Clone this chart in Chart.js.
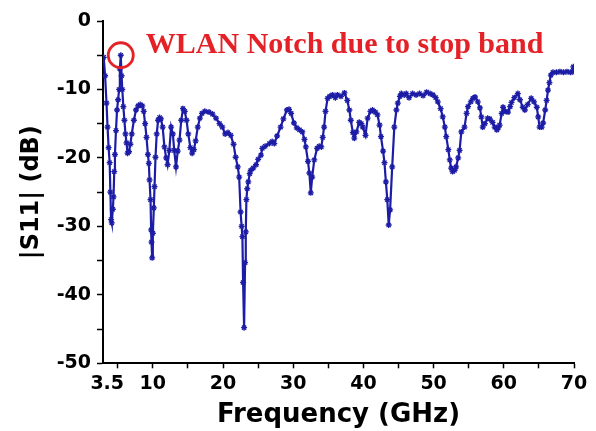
<!DOCTYPE html>
<html>
<head>
<meta charset="utf-8">
<script src="https://cdn.jsdelivr.net/npm/chart.js@4/dist/chart.umd.min.js"></script>
<style>
  html, body { margin: 0; padding: 0; background: #ffffff; }
  #wrap { width: 596px; height: 431px; }
</style>
</head>
<body>
<div id="wrap"><canvas id="c" width="596" height="431"></canvas></div>
<script>
// ---- data ----
const freqGHz = [
  3.0, 3.2, 3.4, 3.55, 3.7, 3.85, 3.95, 4.05, 4.15, 4.3, 4.4, 4.5, 4.6, 4.75, 4.9, 5.05, 5.2, 5.3, 5.43,
  5.55, 5.65, 5.8, 5.95, 6.1, 6.25, 6.4, 6.6, 6.8, 7.0, 7.3, 7.6, 7.9, 8.2, 8.5, 8.7, 8.9, 9.1, 9.3,
  9.43, 9.53, 9.67, 9.76, 9.81, 9.9, 10.0, 10.14, 10.24, 10.38, 10.55, 10.75, 10.95, 11.15, 11.4,
  11.65, 11.9, 12.1, 12.35, 12.6, 12.85, 13.05, 13.3, 13.55, 13.8, 14.05, 14.3, 14.55, 14.8, 15.05,
  15.35, 15.6, 15.85, 16.1, 16.4, 16.7, 17.0, 17.4, 18.0, 18.5, 19.0, 19.5, 19.9, 20.3, 20.7, 21.1,
  21.5, 21.8, 22.1, 22.3, 22.5, 22.65, 22.76, 22.86, 23.0, 23.14, 23.24, 23.33, 23.45, 23.6, 23.8,
  23.96, 24.3, 24.7, 25.0, 25.4, 25.6, 26.0, 26.6, 27.0, 27.3, 27.7, 28.2, 28.6, 29.1, 29.4, 29.7,
  30.1, 30.5, 30.9, 31.3, 31.6, 31.8, 32.1, 32.3, 32.5, 32.7, 33.0, 33.4, 33.7, 34.0, 34.2, 34.4,
  34.6, 34.9, 35.2, 35.6, 36.0, 36.3, 36.8, 37.3, 37.7, 38.0, 38.2, 38.5, 38.7, 39.0, 39.4, 39.7,
  39.9, 40.3, 40.6, 41.0, 41.3, 41.7, 42.0, 42.3, 42.5, 42.8, 43.0, 43.2, 43.4, 43.6, 43.8, 44.1,
  44.4, 44.7, 44.9, 45.2, 45.4, 45.8, 46.1, 46.5, 47.0, 47.5, 48.0, 48.5, 49.0, 49.5, 49.9, 50.3,
  50.6, 51.0, 51.3, 51.6, 51.8, 52.1, 52.3, 52.5, 52.7, 53.0, 53.2, 53.5, 53.7, 53.95, 54.4, 54.7,
  54.9, 55.3, 55.6, 55.9, 56.3, 56.6, 56.8, 57.0, 57.3, 57.7, 58.0, 58.4, 58.7, 59.0, 59.2, 59.4,
  59.7, 59.9, 60.2, 60.6, 60.9, 61.1, 61.5, 62.0, 62.3, 62.7, 63.0, 63.4, 63.9, 64.3, 64.7, 64.9,
  65.1, 65.4, 65.6, 65.9, 66.1, 66.3, 66.5, 66.7, 67.0, 67.5, 68.0, 68.5, 69.0, 69.5, 69.85, 69.9
];
const s11dB = [
  -5.3, -8, -12, -15.5, -18.5, -20.7, -25, -29, -29.5, -27.5, -25.7, -22, -19.5, -16, -13, -11.5, -10, -7, -5,
  -8, -10, -12.5, -14.5, -16.5, -17.8, -19.3, -19.1, -18, -16.5, -14.5, -13, -12.4, -12.2, -12.4, -13.2, -15, -17, -19.5,
  -20.8, -23.2, -26.1, -30.5, -32.3, -34.6, -31, -27.3, -24.2, -19.9, -16.5, -14.5, -14.1, -14.3, -15.5,
  -18.4, -20, -21, -18.9, -15.5, -16.5, -18.9, -21.3, -19, -17.4, -14.5, -12.8, -13.2, -14.5, -16.5,
  -18.5, -19.3, -18.8, -17.5, -15.5, -14.2, -13.5, -13.2, -13.3, -13.6, -14.2, -15, -15.5, -16.5, -16.3, -16.7,
  -18, -19.9, -21.3, -22.8, -27.9, -30, -31.5, -38.2, -44.8, -35.3, -30.8, -26.1, -24.5, -23.5, -22.3,
  -21.8, -21.5, -21, -20.2, -19.6, -18.6, -18.3, -17.9, -17.6, -17.9, -16.8, -15.5, -14.3, -13, -12.9, -13.5,
  -14.9, -15.6, -15.9, -16.2, -17.3, -18.4, -20.5, -22.2, -25.1, -22.8, -20.3, -18.6, -18.3, -18.4, -17, -15.5,
  -13.2, -11.3, -11, -10.8, -11.2, -10.8, -11, -10.5, -11.6, -13, -14.5, -16.3, -17.1, -16.2, -14.8, -15,
  -15.5, -16.7, -14.2, -13.2, -13, -13.3, -13.7, -15.2, -16.9, -19, -20.7, -23.5, -26.1, -29.8, -27.6, -21.3,
  -15.5, -13, -12, -11, -10.6, -10.8, -10.6, -11.2, -10.6, -10.8, -10.6, -10.9, -10.4, -10.6, -10.8, -11.2,
  -11.8, -12.8, -14, -15.5, -16.9, -18.8, -20.3, -21.5, -22, -21.8, -21.3, -20, -18.9, -16.2, -15.5, -13.5,
  -12.5, -11.8, -11.3, -11.1, -11.8, -12.7, -14, -15.5, -15, -14.2, -14.3, -14.8, -15.5, -15.9, -15.6, -15.2,
  -13.5, -12.6, -13.2, -13.3, -12.5, -11.9, -11.2, -10.6, -11.5, -12.6, -13, -12.2, -11.3, -11.8, -12.6, -14,
  -15.5, -15.5, -14.9, -13, -11.6, -10.1, -9, -7.9, -7.5, -7.5, -7.4, -7.5, -7.4, -7.5, -7.4, -6.7
];

const xTickValues = [3.5, 5, 10, 15, 20, 25, 30, 35, 40, 45, 50, 55, 60, 65, 70];
const xTickLabels = ['3.5', '', '10', '', '20', '', '30', '', '40', '', '50', '', '60', '', '70'];
const yTickValues = [0, -5, -10, -15, -20, -25, -30, -35, -40, -45, -50];
const yTickLabels = ['0', '', '-10', '', '-20', '', '-30', '', '-40', '', '-50'];

const notchFreq = 5.43;     // marked WLAN notch point
const notchValue = -5;
const noteText = 'WLAN Notch due to stop band';
const noteAnchorFreq = 9.0;
const noteAnchorValue = -4.7;

// ---- chart ----
const points = freqGHz.map((f, i) => ({ x: f, y: s11dB[i] }));
const BLUE = '#1c1ca6';
const RED = '#e42127';

const notePlugin = {
  id: 'notePlugin',
  afterDatasetsDraw(chart) {
    const { ctx, scales } = chart;
    const x = scales.x, y = scales.y;
    ctx.save();
    ctx.strokeStyle = RED;
    ctx.lineWidth = 2.8;
    ctx.beginPath();
    ctx.arc(x.getPixelForValue(notchFreq), y.getPixelForValue(notchValue), 12.5, 0, Math.PI * 2);
    ctx.stroke();
    ctx.fillStyle = RED;
    ctx.font = 'bold 30px "Liberation Serif", serif';
    ctx.textBaseline = 'alphabetic';
    ctx.textAlign = 'left';
    ctx.fillText(noteText, x.getPixelForValue(noteAnchorFreq), y.getPixelForValue(noteAnchorValue));
    ctx.restore();
  }
};

new Chart(document.getElementById('c'), {
  type: 'line',
  data: {
    datasets: [{
      data: points,
      borderColor: BLUE,
      backgroundColor: BLUE,
      borderWidth: 2.2,
      pointStyle: 'star',
      pointRadius: 3,
      pointBorderWidth: 1.3,
      pointBorderColor: BLUE,
      pointBackgroundColor: BLUE,
      tension: 0
    }]
  },
  options: {
    responsive: false,
    animation: false,
    events: [],
    layout: { padding: { left: 10, right: 22, top: 21, bottom: 0 } },
    plugins: { legend: { display: false }, tooltip: { enabled: false } },
    scales: {
      x: {
        type: 'linear',
        min: 2.9,
        max: 70,
        afterBuildTicks(scale) { scale.ticks = xTickValues.map(v => ({ value: v })); },
        afterFit(scale) { scale.height = 431 - 363.3; },
        border: { display: true, color: '#000', width: 2 },
        grid: {
          drawOnChartArea: false,
          drawTicks: true,
          tickLength: 5,
          tickWidth: 1.5,
          tickColor: ctx => (ctx.tick && ctx.tick.value === 3.5) ? 'rgba(0,0,0,0)' : '#000'
        },
        ticks: {
          autoSkip: false,
          maxRotation: 0,
          padding: 4,
          color: '#000',
          font: { family: '"DejaVu Sans", sans-serif', weight: 'bold', size: 19 },
          callback: (v) => { const i = xTickValues.indexOf(v); return i >= 0 ? xTickLabels[i] : ''; }
        },
        title: {
          display: true,
          text: 'Frequency (GHz)',
          color: '#000',
          font: { family: '"DejaVu Sans", sans-serif', weight: 'bold', size: 26 },
          padding: { top: 0, bottom: 0 }
        }
      },
      y: {
        type: 'linear',
        min: -50,
        max: 0,
        afterBuildTicks(scale) { scale.ticks = yTickValues.map(v => ({ value: v })); },
        afterFit(scale) { scale.width = 103 - 10; },
        border: { display: true, color: '#000', width: 2 },
        grid: { drawOnChartArea: false, drawTicks: true, tickLength: 6, tickWidth: 1.5, tickColor: '#000' },
        ticks: {
          autoSkip: false,
          padding: 6,
          color: '#000',
          font: { family: '"DejaVu Sans", sans-serif', weight: 'bold', size: 19 },
          callback: (v) => { const i = yTickValues.indexOf(v); return i >= 0 ? yTickLabels[i] : ''; }
        },
        title: {
          display: true,
          text: '|S11| (dB)',
          color: '#000',
          font: { family: '"DejaVu Sans", sans-serif', weight: 'bold', size: 24 },
          padding: { top: 7, bottom: 0 }
        }
      }
    }
  },
  plugins: [notePlugin]
});
</script>
</body>
</html>
